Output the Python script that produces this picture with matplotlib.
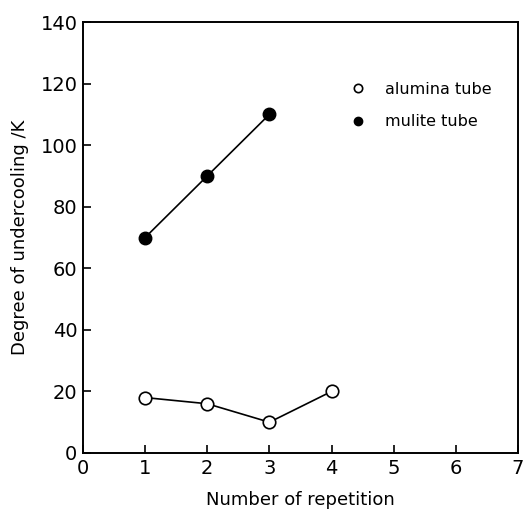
import numpy as np
import matplotlib.pyplot as plt

# data
rep_alumina = [1, 2, 3, 4]
alumina = [18, 16, 10, 20]
rep_mullite = [1, 2, 3]
mullite = [70, 90, 110]

x_ticks = [0, 1, 2, 3, 4, 5, 6, 7]
y_ticks = [0, 20, 40, 60, 80, 100, 120, 140]

plt.rcParams['font.family'] = 'DejaVu Sans'

fig = plt.figure(figsize=(5.31, 5.21), dpi=100)
ax = fig.add_axes([83 / 531, 1 - 453 / 521, 435 / 531, 431 / 521])

ax.plot(rep_alumina, alumina, '-o', color='black', mfc='white', mec='black',
        ms=9, lw=1.2, mew=1.2, label='alumina tube')
ax.plot(rep_mullite, mullite, '-o', color='black', mfc='black', mec='black',
        ms=9, lw=1.2, label='mulite tube')

ax.set_xlim(0, 7)
ax.set_ylim(0, 140)
ax.set_xticks(x_ticks)
ax.set_yticks(y_ticks)
ax.tick_params(direction='in', length=6, width=1.2, labelsize=14, pad=4)
for s in ax.spines.values():
    s.set_linewidth(1.4)

ax.set_xlabel('Number of repetition', fontsize=13, labelpad=10)
ax.set_ylabel('Degree of undercooling /K', fontsize=13, labelpad=8)

# legend without frame, markers only
h1 = plt.Line2D([], [], ls='none', marker='o', mfc='white', mec='black', ms=6, mew=1.2)
h2 = plt.Line2D([], [], ls='none', marker='o', mfc='black', mec='black', ms=6)
ax.legend([h1, h2], ['alumina tube', 'mulite tube'], frameon=False, fontsize=11.5,
          loc='upper left', bbox_to_anchor=(0.58, 0.895), handlelength=1.0,
          handletextpad=1.2, labelspacing=1.1)

fig.savefig('out.png', dpi=100)
